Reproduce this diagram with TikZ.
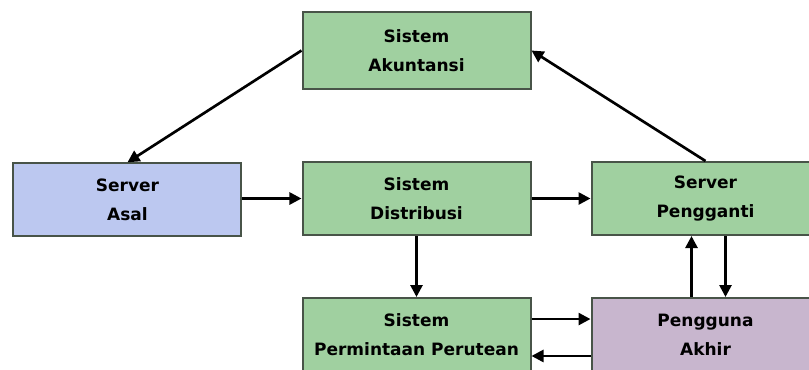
\documentclass[tikz,border=0pt]{standalone}
\usepackage{fontspec}
\setsansfont{DejaVu Sans}
\usetikzlibrary{arrows.meta, positioning}

\definecolor{boxgreen}{RGB}{160,208,160}
\definecolor{boxblue}{RGB}{188,200,240}
\definecolor{boxpurple}{RGB}{200,182,206}
\definecolor{boxedge}{RGB}{72,84,72}

\begin{document}
\begin{tikzpicture}[thick,
        node distance = 53.25pt and 44.25pt,
        sysbox/.style = {draw=boxedge, line width=1.5pt, fill=boxgreen, align=center, minimum width=171pt, minimum height=54.75pt, font=\sffamily\bfseries\fontsize{12.75}{21.75}\selectfont},
        flow/.style = {-{Triangle[length=9pt,width=9pt]}, line width=2pt},
    ]
    \clip (-312.375pt,37.875pt) rectangle (294.375pt,-238.875pt);
    \fill[white] (-312.375pt,37.875pt) rectangle (294.375pt,-238.875pt);
    \node[sysbox, minimum height=57.75pt]               (akuntansi) {Sistem\\Akuntansi};
    \node[sysbox, below=of akuntansi]                   (distribusi) {Sistem\\Distribusi};
    \node[sysbox, fill=boxblue, left=of distribusi, yshift=-1pt] (asal) {Server\\Asal};
    \node[sysbox, right=of distribusi]                  (pengganti) {Server\\Pengganti};
    \node[sysbox, below=45.75pt of distribusi]          (perutean) {Sistem\\Permintaan Perutean};
    \node[sysbox, fill=boxpurple, right=of perutean]    (pengguna) {Pengguna\\Akhir};
    %
    \draw[flow]  (akuntansi.west) -- (asal.north);
    \draw[flow]  (pengganti.north) -- (akuntansi.east);
    \draw[flow]  (asal.east |- distribusi.west) -- (distribusi.west);
    \draw[flow]  (distribusi) -- (pengganti);
    \draw[flow]  (distribusi) -- (perutean);
    \draw[flow]  ([xshift=15pt]pengganti.south) -- ([xshift=15pt]pengguna.north);
    \draw[flow]  ([xshift=-10.5pt]pengguna.north) -- ([xshift=-10.5pt]pengganti.south);
    \draw[flow]  ([yshift=11.6pt]perutean.east) -- ([yshift=11.6pt]pengguna.west);
    \draw[flow]  ([yshift=-16.1pt]pengguna.west) -- ([yshift=-16.1pt]perutean.east);
    %
\end{tikzpicture}
\end{document}
